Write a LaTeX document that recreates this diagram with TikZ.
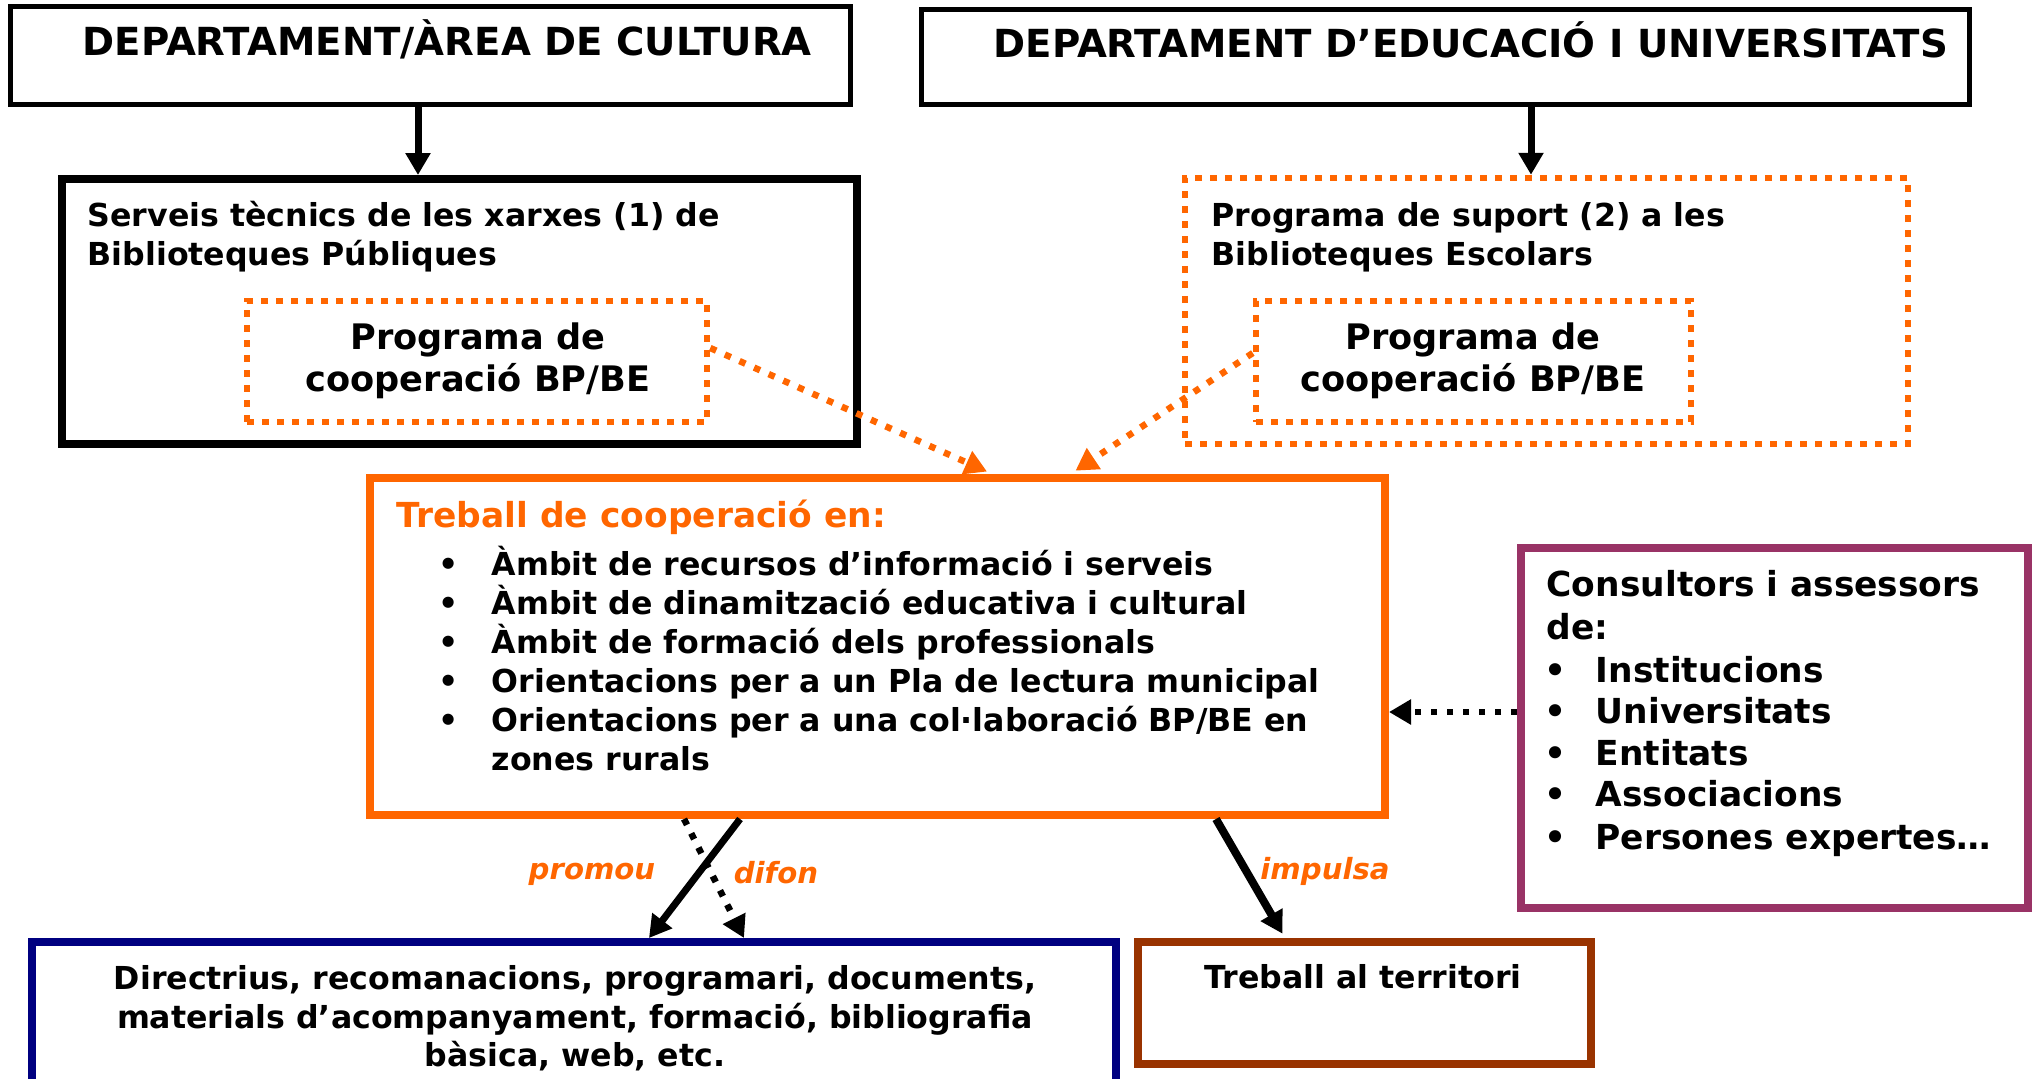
\documentclass[tikz,border=0pt]{standalone}
\usepackage{fontspec}
\setmainfont{DejaVu Sans}
\usetikzlibrary{arrows.meta,positioning}
\definecolor{taronja}{HTML}{FF6600}
\definecolor{lila}{HTML}{993366}
\definecolor{marino}{HTML}{000080}
\definecolor{marro}{HTML}{993300}

\begin{document}
\begin{tikzpicture}[x=0.1mm,y=-0.1mm]
\tikzstyle{every node}+=[inner sep=0pt]
\tikzstyle{caixa}=[draw, line width=0.5mm]
\tikzstyle{gruixuda}=[draw, line width=0.8mm]
\tikzstyle{puntejada}=[draw=taronja, line width=0.65mm, dash pattern=on 0.7mm off 0.8mm]
\tikzstyle{fletxa}=[line width=0.7mm, -{Triangle[length=2.2mm,width=2.4mm]}]
\tikzstyle{fletxapunts}=[fletxa, line width=0.65mm, dash pattern=on 0.65mm off 0.95mm]
\tikzstyle{linia}=[text height=1.6ex, text depth=.3ex]
\tikzstyle{capcal}=[linia, font=\fontsize{11}{13}\selectfont\bfseries]
\tikzstyle{txt}=[linia, font=\fontsize{9}{11}\selectfont\bfseries]
\tikzstyle{prog}=[linia, font=\fontsize{10}{12}\selectfont\bfseries]
\tikzstyle{mitja}=[linia, font=\fontsize{9.8}{12}\selectfont\bfseries]
\tikzstyle{verb}=[linia, text=taronja, font=\fontsize{8.3}{10}\selectfont\bfseries\itshape]
\useasboundingbox (0,0) rectangle (2035,1078);
\node [caixa, minimum width=84mm, minimum height=9.8mm] (cultura) at (430,55) {};
\node [capcal, anchor=west] (cultura-t) at (82,43) {DEPARTAMENT/ÀREA DE CULTURA};
\node [caixa, minimum width=104.8mm, minimum height=9.5mm] (educacio) at (1445,56.5) {};
\node [capcal, anchor=west] (educacio-t) at (993,45) {DEPARTAMENT D’EDUCACIÓ I UNIVERSITATS};
\node [gruixuda, minimum width=79.5mm, minimum height=26.5mm] (serveis) at (459.5,311.5) {};
\node [txt, anchor=west] (serveis-t1) at (87,214) {Serveis tècnics de les xarxes (1) de};
\node [txt, anchor=west] (serveis-t2) at (87,253) {Biblioteques Públiques};
\node [puntejada, minimum width=46mm, minimum height=12.1mm] (coopA) at (477,361.5) {};
\node [prog] (coopA-t1) at (478,337) {Programa de};
\node [prog] (coopA-t2) at (478,379) {cooperació BP/BE};
\node [puntejada, minimum width=72.3mm, minimum height=26.6mm] (suport) at (1546.5,311) {};
\node [txt, anchor=west] (suport-t1) at (1211,214) {Programa de suport (2) a les};
\node [txt, anchor=west] (suport-t2) at (1211,253) {Biblioteques Escolars};
\node [puntejada, minimum width=43.5mm, minimum height=12.1mm] (coopB) at (1473.5,361.5) {};
\node [prog] (coopB-t1) at (1473,337) {Programa de};
\node [prog] (coopB-t2) at (1473,379) {cooperació BP/BE};
\node [gruixuda, draw=taronja, minimum width=101.5mm, minimum height=33.7mm] (treball) at (877.5,646.5) {};
\node [mitja, anchor=west, text=taronja] (treball-t) at (396,515) {Treball de cooperació en:};
\foreach \y/\t [count=\i] in {563/{Àmbit de recursos d’informació i serveis},
  602/{Àmbit de dinamització educativa i cultural},
  641/{Àmbit de formació dels professionals},
  680/{Orientacions per a un Pla de lectura municipal},
  719/{Orientacions per a una col·laboració BP/BE en}}
  {\node [txt] (ambit-b\i) at (449,\y) {\textbullet};
   \node [txt, anchor=west] (ambit\i) at (491,\y) {\t};}
\node [txt, anchor=west] (ambit6) at (491,758) {zones rurals};
\node [gruixuda, draw=lila, minimum width=50.7mm, minimum height=36mm] (consultors) at (1774.5,728) {};
\node [mitja, anchor=west] (consultors-t1) at (1546,584) {Consultors i assessors};
\node [mitja, anchor=west] (consultors-t2) at (1546,627) {de:};
\foreach \y/\t [count=\i] in {670/Institucions, 711/Universitats, 753/Entitats,
  794/Associacions, 837/{Persones expertes\dots}}
  {\node [mitja] (entitat-b\i) at (1555,\y) {\textbullet};
   \node [mitja, anchor=west] (entitat\i) at (1595,\y) {\t};}
\node [gruixuda, draw=marino, minimum width=108.4mm, minimum height=15mm] (directrius) at (574,1017) {};
\node [txt] (directrius-t1) at (575,977) {Directrius, recomanacions, programari, documents,};
\node [txt] (directrius-t2) at (575,1016) {materials d’acompanyament, formació, bibliografia};
\node [txt] (directrius-t3) at (575,1054) {bàsica, web, etc.};
\node [gruixuda, draw=marro, minimum width=45.3mm, minimum height=12.2mm] (territori) at (1364.5,1003) {};
\node [txt] (territori-t) at (1363,976) {Treball al territori};
\draw [fletxa] ([xshift=-1.2mm]cultura.south) -- ([xshift=-1.2mm]cultura.south |- serveis.north);
\draw [fletxa] ([xshift=8.6mm]educacio.south) -- ([xshift=8.6mm]educacio.south |- suport.north);
\draw [fletxapunts, taronja, shorten >=0.6mm] ([yshift=1.35mm]coopA.east) -- ([xshift=11.5mm]treball.north);
\draw [fletxapunts, taronja, shorten >=0.6mm] ([yshift=0.85mm]coopB.west) -- ([xshift=19.3mm]treball.north);
\draw [fletxapunts] ([yshift=1.6mm]consultors.west) -- ([yshift=1.6mm]consultors.west -| treball.east);
\draw [fletxa] ([xshift=-13.75mm]treball.south) -- ([xshift=7.5mm]directrius.north);
\draw [fletxapunts] ([xshift=-19.35mm]treball.south) -- ([xshift=17mm]directrius.north);
\draw [fletxa, line width=0.8mm, shorten >=0.5mm] ([xshift=33.85mm]treball.south) -- ([xshift=-7.95mm]territori.north);
\node [verb] (promou) at (592,867) {promou};
\node [verb] (difon) at (776,871) {difon};
\node [verb] (impulsa) at (1325,867) {impulsa};
\end{tikzpicture}
\end{document}
